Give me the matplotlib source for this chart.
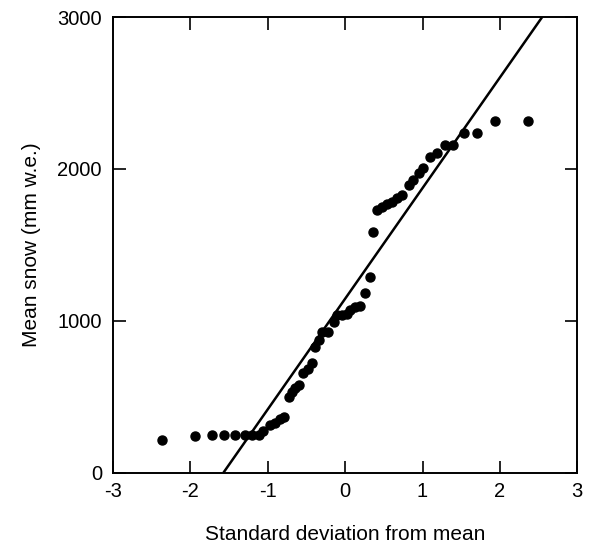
import matplotlib.pyplot as plt
import numpy as np

plt.rcParams["font.family"] = ["Liberation Sans", "DejaVu Sans"]
plt.rcParams["axes.unicode_minus"] = False

# normal scores (standard deviations from mean) and mean snow, mm w.e.
std_dev = [-2.37, -1.94, -1.72, -1.56, -1.42, -1.29, -1.21, -1.12, -1.06, -0.97,
           -0.91, -0.84, -0.79, -0.73, -0.69, -0.65, -0.60, -0.54, -0.48, -0.43,
           -0.39, -0.34, -0.30, -0.22, -0.15, -0.11, -0.04, 0.02, 0.06, 0.13,
           0.19, 0.26, 0.32, 0.36, 0.41, 0.47, 0.54, 0.60, 0.67, 0.74,
           0.82, 0.88, 0.95, 1.01, 1.10, 1.19, 1.29, 1.40, 1.54, 1.70,
           1.94, 2.37]
mean_snow = [215, 243, 250, 250, 250, 250, 250, 250, 276, 316,
             329, 355, 368, 500, 533, 559, 579, 658, 680, 724,
             831, 875, 925, 925, 995, 1039, 1039, 1045, 1072, 1088,
             1099, 1182, 1292, 1585, 1730, 1752, 1772, 1785, 1807, 1829,
             1895, 1928, 1972, 2004, 2081, 2103, 2158, 2158, 2235, 2235,
             2316, 2316]

# fitted normal line: snow = intercept + slope * std_dev
fit_intercept = 1146
fit_slope = 728

x_ticks = [-3, -2, -1, 0, 1, 2, 3]
y_ticks = [0, 1000, 2000, 3000]

fig = plt.figure(figsize=(5.89, 5.51), dpi=100)
ax = fig.add_axes([0.192, 0.142, 0.788, 0.827])

y_line = np.array([0, 3000])
x_line = (y_line - fit_intercept) / fit_slope
ax.plot(x_line, y_line, color="black", lw=1.8, solid_capstyle="butt")
ax.plot(std_dev, mean_snow, "o", color="black", markersize=6.5)

ax.set_xlim(-3, 3)
ax.set_ylim(0, 3000)
ax.set_xticks(x_ticks)
ax.set_yticks(y_ticks)
ax.tick_params(direction="in", length=9, width=1.2, top=True, right=True,
               labelsize=14.5)
ax.tick_params(axis="x", pad=7)
ax.tick_params(axis="y", pad=8)
for s in ax.spines.values():
    s.set_linewidth(1.4)

ax.set_xlabel("Standard deviation from mean", fontsize=15, labelpad=17)
ax.set_ylabel("Mean snow (mm w.e.)", fontsize=15, labelpad=12)

fig.savefig("out.png", dpi=100)
